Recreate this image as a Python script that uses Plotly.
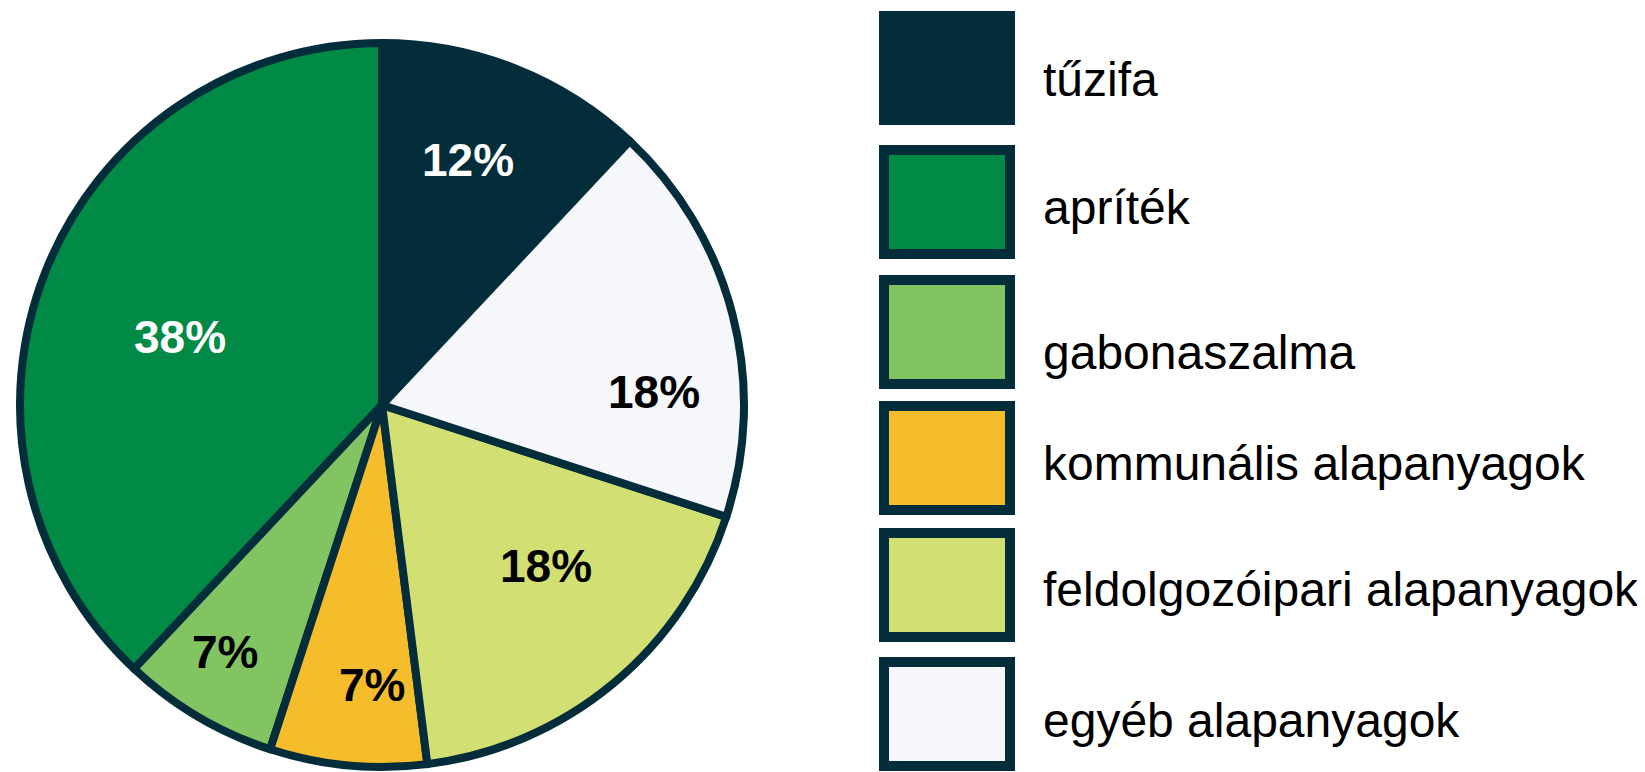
import math
import plotly.graph_objects as go

# ---- data ----
categories = ["tűzifa", "apríték", "gabonaszalma", "kommunális alapanyagok",
              "feldolgozóipari alapanyagok", "egyéb alapanyagok"]
shares = [12, 38, 7, 7, 18, 18]
colors = ["#032D3A", "#008A45", "#82C462", "#F5BD2B", "#D2E073", "#F5F7FB"]
label_colors = ["#FFFFFF", "#FFFFFF", "#000000", "#000000", "#000000", "#000000"]

# ---- layout constants (figure pixels; page adds an 8px body margin) ----
W, H = 1645, 772
EDGE = "#032D3A"
FONT = "Liberation Sans"
pie_cx, pie_cy, pie_r = 374, 397, 362
# per-label placement inside the slices (fraction of radius, angular nudge in degrees)
lab_rfrac = [0.716, 0.587, 0.811, 0.776, 0.637, 0.752]
lab_dang = [-2.2, -3.2, 1.8, -3.4, -5.7, 11.9]
sw_x0, sw_x1 = 876, 1002          # swatch rect centre-line (border 10px)
sw_tops = [8, 142, 272, 398, 525, 654]
sw_h = 104
text_x = 1033
text_cy = [71, 199, 344, 455, 581, 712]

def px(x):
    return x / W

def py(y):
    return 1 - y / H

fig = go.Figure(go.Pie(
    labels=categories,
    values=shares,
    sort=False,
    direction="counterclockwise",
    rotation=0,
    marker=dict(colors=colors, line=dict(color=EDGE, width=8)),
    textinfo="none",
    showlegend=False,
    hoverinfo="label+percent",
    domain=dict(x=[px(pie_cx - pie_r), px(pie_cx + pie_r)],
                y=[py(pie_cy + pie_r), py(pie_cy - pie_r)]),
))

shapes = []
annotations = []

# percentage labels, placed from the slice angles (same geometry as the pie trace)
total = sum(shares)
start = 360.0 * shares[0] / total
for i, v in enumerate(shares):
    end = start - 360.0 * v / total
    mid = (start + end) / 2 + lab_dang[i]
    start = end
    rr = pie_r * lab_rfrac[i]
    lx = pie_cx + rr * math.sin(math.radians(mid))
    ly = pie_cy - rr * math.cos(math.radians(mid)) - 1
    annotations.append(dict(xref="paper", yref="paper", x=px(lx), y=py(ly),
                            xanchor="center", yanchor="middle", showarrow=False,
                            text=f"{round(100 * v / total)}%",
                            font=dict(family=FONT, size=46, weight="bold", color=label_colors[i])))

# legend swatches + labels
for i, (cat, col) in enumerate(zip(categories, colors)):
    shapes.append(dict(type="rect", xref="paper", yref="paper",
                       x0=px(sw_x0), x1=px(sw_x1),
                       y0=py(sw_tops[i] + sw_h), y1=py(sw_tops[i]),
                       fillcolor=col, line=dict(color=EDGE, width=10)))
    annotations.append(dict(xref="paper", yref="paper", x=px(text_x), y=py(text_cy[i]),
                            xanchor="left", yanchor="middle", showarrow=False,
                            text=cat, font=dict(family=FONT, size=48, color="#000000")))

fig.update_layout(
    width=W, height=H,
    margin=dict(l=0, r=0, t=0, b=0),
    paper_bgcolor="white", plot_bgcolor="white",
    shapes=shapes, annotations=annotations,
)

fig.write_html("out.html")
